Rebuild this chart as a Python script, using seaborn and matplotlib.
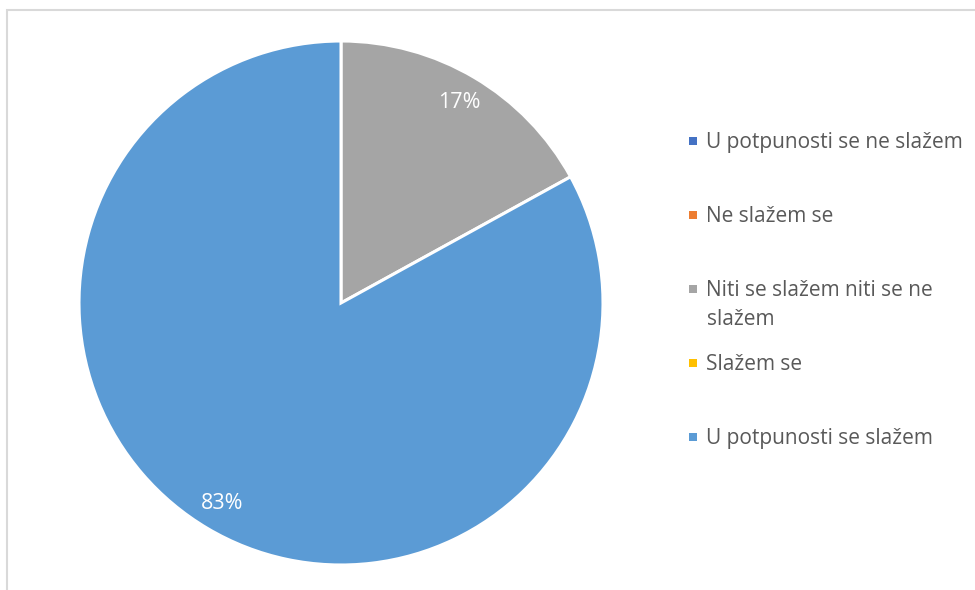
import textwrap
import matplotlib
matplotlib.use("Agg")
import matplotlib.pyplot as plt
from matplotlib.patches import Rectangle
import seaborn as sns

# Survey responses (share of answers, %)
categories = [
    "U potpunosti se ne slažem",
    "Ne slažem se",
    "Niti se slažem niti se ne slažem",
    "Slažem se",
    "U potpunosti se slažem",
]
shares = [0, 0, 17, 0, 83]
colors = ["#4472C4", "#ED7D31", "#A5A5A5", "#FFC000", "#5B9BD5"]

sns.set_theme(style="white")
plt.rcParams["font.family"] = ["Open Sans", "DejaVu Sans"]

W, H = 975, 590
fig = plt.figure(figsize=(W / 100, H / 100), dpi=100)
fig.patch.set_facecolor("white")

# Chart frame
fig.add_artist(Rectangle((6.5 / W, -0.1), 1.2, (H - 9.5) / H + 0.1,
                         transform=fig.transFigure, fill=False,
                         edgecolor="#D9D9D9", linewidth=1.5))

# Pie area
cx, cy, r = 341, 303, 262
ax = fig.add_axes([(cx - r) / W, (H - cy - r) / H, 2 * r / W, 2 * r / H])

drawn = [(v, c) for v, c in zip(shares, colors) if v > 0]
vals = [v for v, _ in drawn]
cols = [c for _, c in drawn]
wedges, _, autotexts = ax.pie(
    vals, colors=cols, startangle=90, counterclock=False,
    autopct=lambda p: f"{p:.0f}%", pctdistance=0.89,
    wedgeprops=dict(edgecolor="white", linewidth=2.2),
    textprops=dict(color="white", fontsize=15.5),
)
ax.set_xlim(-1, 1)
ax.set_ylim(-1, 1)
ax.set_aspect("equal")
ax.axis("off")

# Legend on the right
legend_x_marker, legend_x_text = 689, 706.5
first_baseline, step, line_gap = 148, 74, 29
for i, (label, col) in enumerate(zip(categories, colors)):
    base = first_baseline + i * step
    fig.add_artist(Rectangle((legend_x_marker / W, 1 - (base - 3) / H),
                             8 / W, 8 / H, transform=fig.transFigure,
                             facecolor=col, edgecolor="none"))
    for j, line in enumerate(textwrap.wrap(label, width=25)):
        fig.text(legend_x_text / W, 1 - (base + j * line_gap) / H, line,
                 fontsize=15, color="#595959", va="baseline", ha="left")

fig.savefig("out.png", dpi=100)
